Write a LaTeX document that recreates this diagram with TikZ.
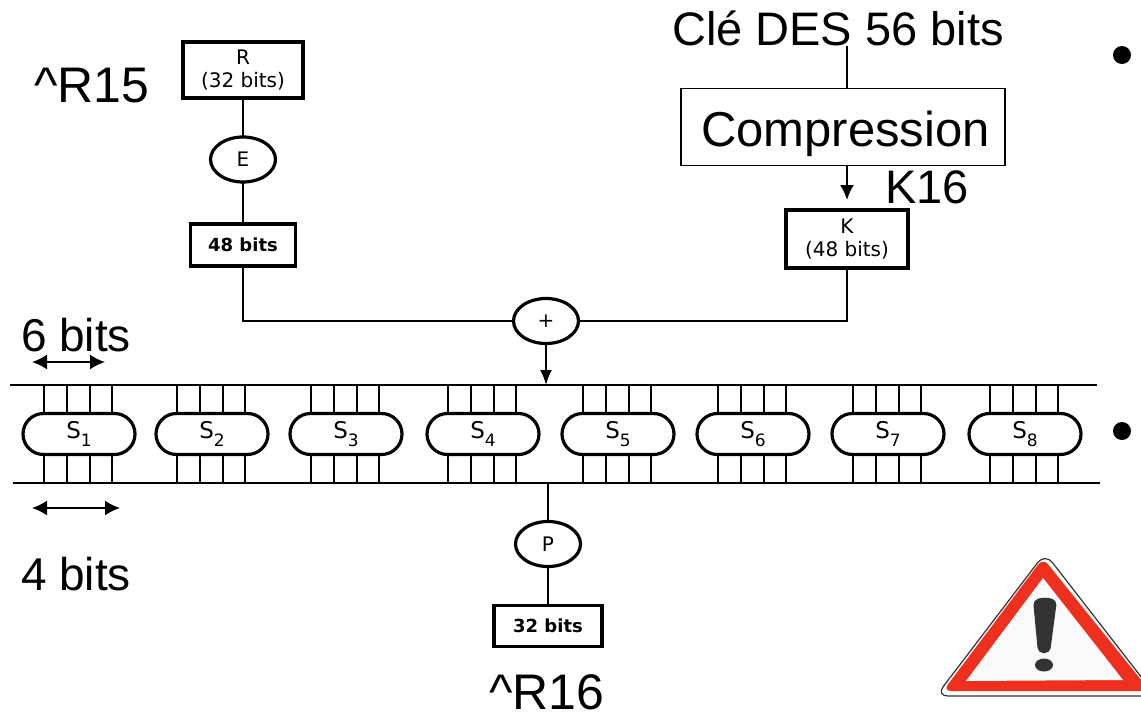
\documentclass[tikz,border=0pt]{standalone}
\usepackage{fontspec}
\setmainfont{Liberation Sans}
\newfontfamily\smallfamily{DejaVu Sans}
\usetikzlibrary{arrows.meta,positioning,shapes.geometric,shapes.misc}
\definecolor{signred}{HTML}{F0301F}
\definecolor{signdark}{HTML}{333333}
\newcommand{\slabel}[1]{\fontsize{23}{23}\selectfont S\raisebox{-8pt}{\fontsize{17}{17}\selectfont #1}}

\begin{document}
\begin{tikzpicture}[
    x=1pt, y=-1pt,
    every node/.style={outer sep=0pt, inner sep=0pt},
    big/.style={font=\fontsize{47}{50}\selectfont},
    wide/.style={font=\fontsize{50}{52}\selectfont},
    mid/.style={font=\fontsize{46}{50}\selectfont},
    small/.style={font=\smallfamily\fontsize{20}{23}\selectfont, align=center},
    heavy/.style={font=\smallfamily\bfseries\fontsize{18}{23}\selectfont},
    box/.style={draw, small, line width=3.2pt},
    oper/.style={draw, ellipse, small, line width=3.2pt, minimum width=65pt, minimum height=45pt},
    sboxnode/.style={draw, rounded rectangle, small, line width=3.2pt, minimum width=112pt, minimum height=41pt},
    wire/.style={line width=2.6pt},
    rail/.style={line width=2pt},
    flow/.style={-{Latex[length=15pt,width=14pt]}, line width=2pt},
    span/.style={{Latex[length=15pt,width=15pt]}-{Latex[length=15pt,width=15pt]}, line width=1.8pt},
    bullet/.style={circle, fill=black, minimum size=18pt}
]
\useasboundingbox (0,0) rectangle (1141,715);

\node[box, minimum width=120pt, minimum height=56pt] (rbox) at (243,70) {R\\(32 bits)};
\node[oper, below=39pt of rbox] (e) {E};
\node[box, heavy, minimum width=105pt, minimum height=42pt, below=42pt of e] (exp) {48 bits};
\node[box, minimum width=122pt, minimum height=58pt] (kbox) at (847,239) {K\\(48 bits)};
\node[draw, font=\fontsize{49}{50}\selectfont, text height=43pt, text depth=4pt, line width=1.3pt, minimum width=324pt, minimum height=77pt] (comp) at (843,127) {\hspace{5pt}Compression};
\node[big] (cle) at (838,28) {Clé DES 56 bits};
\node[big] (k16) at (927,187) {K16};
\node[wide] (r15) at (92,86) {\^{}R15};
\node[wide] (r16) at (547,692) {\^{}R16};
\node[mid] (six) at (76,335) {6 bits};
\node[mid] (four) at (76,574) {4 bits};
\node[oper] (plus) at (546,321) {+};
\node[oper] (p) at (548,544) {P};
\node[box, heavy, minimum width=108pt, minimum height=41pt, below=39pt of p] (out) {32 bits};
\node[bullet] (dot1) at (1122,55) {};
\node[bullet] (dot2) at (1122,431) {};

\coordinate (topl) at (10,385);
\coordinate (topr) at (1097,385);
\coordinate (botl) at (13,483);
\coordinate (botr) at (1100,483);
\coordinate (sixl) at (32,362);
\coordinate (sixr) at (105,362);
\coordinate (fourl) at (32,508);
\coordinate (fourr) at (120,508);

% S-boxes and their wires
\foreach \n/\x in {1/79,2/212,3/346,4/483,5/618,6/753,7/888,8/1025} {
    \node[sboxnode] (s\n) at (\x,434) {\slabel{\n}};
    \foreach \d in {-35,-12,11,33} {
        \draw[wire] ([xshift=\d pt]s\n.north) -- ([xshift=\d pt]s\n.north |- topl);
        \draw[wire] ([xshift=\d pt]s\n.south) -- ([xshift=\d pt]s\n.south |- botl);
    }
}

\draw[rail] (topl) -- (topr);
\draw[rail] (botl) -- (botr);
\draw[span] (sixl) -- (sixr);
\draw[span] (fourl) -- (fourr);

\draw[wire] (rbox) -- (e);
\draw[wire] (e) -- (exp);
\draw[wire] (exp.south) |- (plus.west);
\draw[wire] (kbox.south) |- (plus.east);
\draw[wire] (comp.north -| kbox) -- (cle.south -| kbox);
\draw[flow, shorten >=10pt] (comp.south -| kbox) -- (kbox.north);
\draw[-{Latex[length=15pt,width=12pt]}, line width=2pt] (plus.south) -- (plus.south |- topl);
\draw[wire] (p.north |- botl) -- (p.north);
\draw[wire] (p) -- (out);

% warning sign
\draw[fill=white, draw=signdark, line width=1.2pt, rounded corners=12pt]
    (1045,553) -- (1156,696) -- (936,696) -- cycle;
\fill[signred, rounded corners=8pt] (1043,558) -- (1150,691) -- (943,691) -- cycle;
\fill[white!98!black] (1043,578) -- (1123,680) -- (966,681) -- cycle;
\fill[signdark, rounded corners=5pt] (1033,600) -- (1045,597) -- (1057,600) -- (1050,653) -- (1038,653) -- cycle;
\fill[signdark] (1044,665) ellipse (9pt and 6.5pt);
\end{tikzpicture}
\end{document}
